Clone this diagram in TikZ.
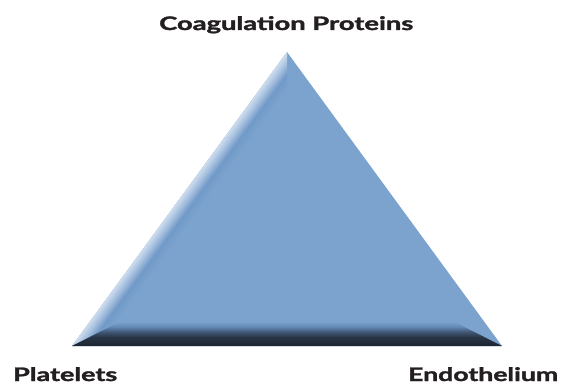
\documentclass[tikz,border=0pt]{standalone}
\usepackage{fontspec}
\setmainfont{Lato}
\newfontfamily\lblfont{Lato}[BoldFeatures={FakeBold=1.6}]
\usepackage{graphicx}
\definecolor{base}{HTML}{7BA3CE}
\definecolor{basedk}{HTML}{729AC8}
\definecolor{lightmid}{HTML}{A6C0DF}
\definecolor{lightedge}{HTML}{CCDBED}
\definecolor{botedge}{HTML}{3B4252}
\definecolor{botdark}{HTML}{1E2634}
\definecolor{botdk2}{HTML}{283446}
\definecolor{botmid}{HTML}{405673}
\definecolor{botlt}{HTML}{6388B4}
\definecolor{labeltext}{HTML}{231F20}
\pgfdeclareverticalshading{leftbevel}{100bp}{color(0bp)=(base); color(25bp)=(base); color(46bp)=(basedk); color(62bp)=(lightmid); color(75bp)=(lightedge); color(100bp)=(lightedge)}
\pgfdeclareverticalshading{bottombevel}{100bp}{color(0bp)=(botedge); color(25bp)=(botedge); color(26.5bp)=(botdark); color(42bp)=(botdk2); color(52bp)=(botmid); color(62bp)=(botlt); color(72bp)=(base); color(100bp)=(base)}
\tikzset{
  lbl/.style={font=\lblfont\fontsize{18.6}{20}\selectfont\bfseries, text=labeltext, inner sep=0pt, anchor=base west},
}
\begin{document}
\begin{tikzpicture}[x=1pt,y=1pt]
\useasboundingbox (0,0) rectangle (563,384);
\coordinate (A) at (287,332);
\coordinate (L) at (72,38);
\coordinate (R) at (502,38);
\fill[base] (L) -- (A) -- (R) -- cycle;
% left bevel (frame: bottom left -> apex)
\begin{scope}[transform canvas={shift={(72,38)},rotate=53.81}]
  \shade[shading=leftbevel] (0,0) -- (364.4,0) -- (364.4-30,-22) -- (43.4,-22) -- cycle;
\end{scope}
% bottom bevel
\shade[shading=bottombevel] (L) -- (R) -- (450.7,64) -- (123.3,64) -- cycle;
\node[lbl] (coag) at (159,354) {\resizebox{254pt}{\height}{Coagulation Proteins}};
\node[lbl] (plat) at (13,3) {\resizebox{104pt}{\height}{Platelets}};
\node[lbl] (endo) at (408,3) {\resizebox{150pt}{\height}{Endothelium}};
\end{tikzpicture}
\end{document}
